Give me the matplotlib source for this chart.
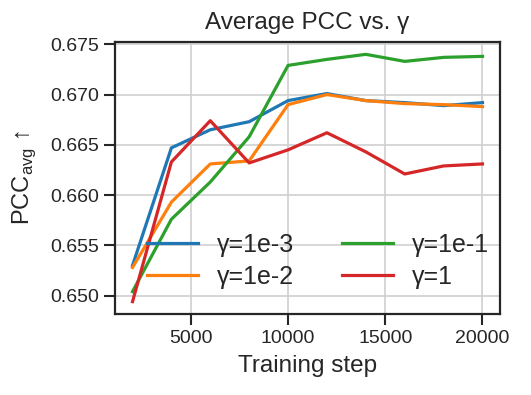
import matplotlib
matplotlib.use("Agg")
import matplotlib.pyplot as plt

steps = [2000, 4000, 6000, 8000, 10000, 12000, 14000, 16000, 18000, 20000]
gamma_1e3 = [0.6530, 0.6647, 0.6665, 0.6673, 0.6694, 0.6701, 0.6694, 0.6692, 0.6689, 0.6692]
gamma_1e2 = [0.6528, 0.6593, 0.6631, 0.6634, 0.6690, 0.6700, 0.6694, 0.6691, 0.6690, 0.6688]
gamma_1e1 = [0.6504, 0.6576, 0.6613, 0.6658, 0.6729, 0.6735, 0.6740, 0.6733, 0.6737, 0.6738]
gamma_1 = [0.6494, 0.6633, 0.6674, 0.6632, 0.6645, 0.6662, 0.6643, 0.6621, 0.6629, 0.6631]
labels = ["γ=1e-3", "γ=1e-2", "γ=1e-1", "γ=1"]
colors = ["#1f77b4", "#ff7f0e", "#2ca02c", "#d62728"]

plt.rcParams['font.family'] = ['Liberation Sans', 'DejaVu Sans']
plt.rcParams['mathtext.fontset'] = 'custom'
plt.rcParams['mathtext.rm'] = 'Liberation Sans'
plt.rcParams['text.color'] = '#262626'
plt.rcParams['axes.labelcolor'] = '#262626'
plt.rcParams['xtick.color'] = '#262626'
plt.rcParams['ytick.color'] = '#262626'

fig, ax = plt.subplots(figsize=(5.31, 3.95), dpi=100)
fig.subplots_adjust(left=0.2166, right=0.9416, top=0.8937, bottom=0.205)

for ys, lab, c in zip([gamma_1e3, gamma_1e2, gamma_1e1, gamma_1], labels, colors):
    ax.plot(steps, ys, color=c, lw=2.3, label=lab)

ax.set_xticks([5000, 10000, 15000, 20000])
ax.set_yticks([0.650, 0.655, 0.660, 0.665, 0.670, 0.675])
ax.yaxis.set_major_formatter(matplotlib.ticker.FormatStrFormatter('%.3f'))
ax.grid(True, color='#d0d0d0', lw=1.2)
ax.set_axisbelow(True)
for s in ax.spines.values():
    s.set_color('#262626')
    s.set_linewidth(1.6)
ax.tick_params(axis='both', labelsize=14, width=1.5, length=8, colors='#262626')
ax.set_title("Average PCC vs. γ", fontsize=17.5, pad=9)
ax.set_xlabel("Training step", fontsize=17.5, labelpad=6)
ax.set_ylabel(r"PCC$_{\mathrm{avg}}$ ↑", fontsize=17, labelpad=9)
ax.legend(ncol=2, frameon=False, fontsize=18, loc='center', bbox_to_anchor=(0.527, 0.195),
          handlelength=2.04, columnspacing=1.92, labelspacing=0.3, handletextpad=0.76)

fig.savefig("out.png", dpi=100)
